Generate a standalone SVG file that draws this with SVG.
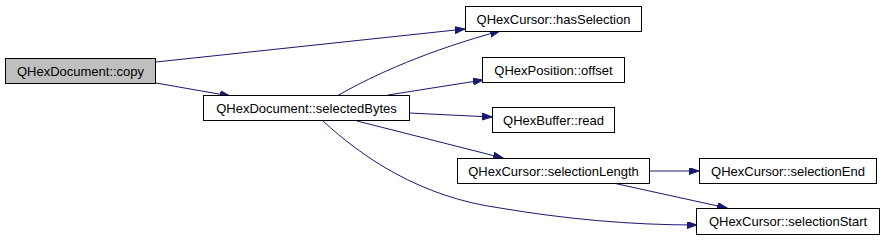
<svg xmlns="http://www.w3.org/2000/svg" width="884" height="240" viewBox="0 0 884 240">
<defs>
<style>
.node rect{fill:#ffffff;stroke:#000000;stroke-width:1}
.node.root rect{fill:#bfbfbf}
.node text{font-family:"Liberation Sans",Arial,sans-serif;font-size:13px;fill:#000000;text-anchor:middle}
.edges path{fill:none;stroke:#191970;stroke-width:1;marker-end:url(#arr)}
</style>
<marker id="arr" markerUnits="userSpaceOnUse" markerWidth="11" markerHeight="8" refX="10" refY="3.5" orient="auto">
<path d="M0,0 L10,3.5 L0,7 z" fill="#191970" stroke="#191970" stroke-width="1"/>
</marker>
</defs>
<rect width="884" height="240" fill="#ffffff"/>
<g class="edges">
<path d="M156,62 L465,29"/>
<path d="M156,83 L230,96"/>
<path d="M337,96 C375,74 430,50 500,31"/>
<path d="M388,95 L483,80"/>
<path d="M409,113 L492,117"/>
<path d="M357,121 L503,158"/>
<path d="M323,121 C362,157 420,197 500,208 C565,219 630,225 697,225"/>
<path d="M649,171 L699,171"/>
<path d="M613,183 L727,208"/>
</g>
<g id="node-copy" class="node root"><rect x="5.5" y="58.5" width="150" height="25"/><text x="80.5" y="75.5">QHexDocument::copy</text></g>
<g id="node-selectedBytes" class="node"><rect x="203.5" y="95.5" width="206" height="25"/><text x="306.5" y="112.5">QHexDocument::selectedBytes</text></g>
<g id="node-hasSelection" class="node"><rect x="465.5" y="6.5" width="176" height="25"/><text x="553.5" y="23.5">QHexCursor::hasSelection</text></g>
<g id="node-offset" class="node"><rect x="482.5" y="57.5" width="142" height="25"/><text x="553.5" y="74.5">QHexPosition::offset</text></g>
<g id="node-read" class="node"><rect x="492.5" y="107.5" width="122" height="25"/><text x="553.5" y="124.5">QHexBuffer::read</text></g>
<g id="node-selectionLength" class="node"><rect x="457.5" y="158.5" width="192" height="25"/><text x="553.5" y="175.5">QHexCursor::selectionLength</text></g>
<g id="node-selectionEnd" class="node"><rect x="699.5" y="158.5" width="177" height="25"/><text x="788" y="175.5">QHexCursor::selectionEnd</text></g>
<g id="node-selectionStart" class="node"><rect x="696.5" y="208.5" width="183" height="26"/><text x="788" y="226">QHexCursor::selectionStart</text></g>
</svg>
